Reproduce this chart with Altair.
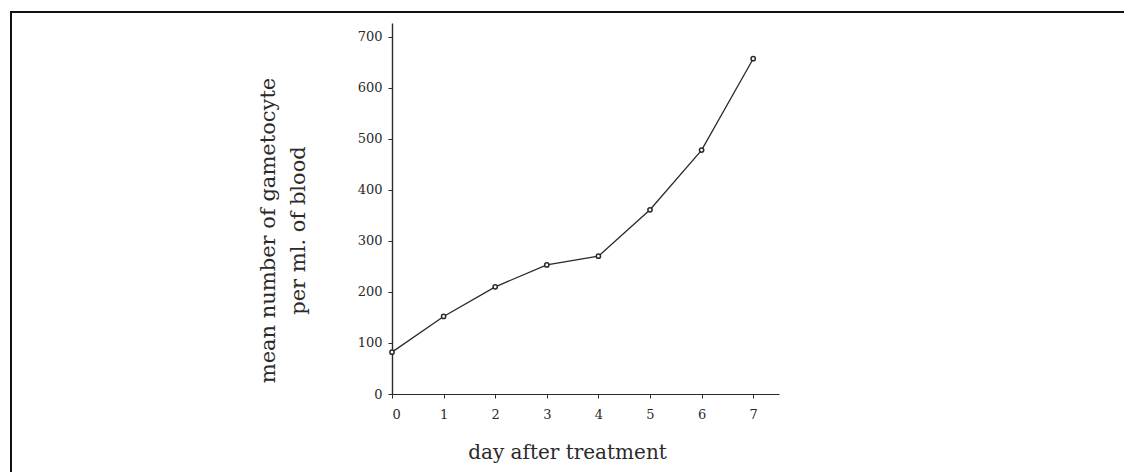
import altair as alt
import pandas as pd

days = [0, 1, 2, 3, 4, 5, 6, 7]
gametocytes = [82, 152, 210, 253, 270, 361, 478, 657]
y_ticks = [0, 100, 200, 300, 400, 500, 600, 700]
x_ticks = [0, 1, 2, 3, 4, 5, 6, 7]

df = pd.DataFrame({"day": days, "count": gametocytes})

FONT = "DejaVu Serif"
INK = "#2a2a2a"

x_enc = alt.X(
    "day:Q",
    scale=alt.Scale(domain=[0, 7.5], nice=False, zero=False),
    axis=alt.Axis(
        values=x_ticks, format="d", title="day after treatment",
        titleX=175, titleY=58, titleBaseline="middle", titleAnchor=None,
        titleFont=FONT, titleFontSize=20, titleFontWeight="normal", titleColor=INK,
        labelFont=FONT, labelFontSize=13, labelColor=INK, labelPadding=10,
        tickSize=4, tickColor=INK, domainColor=INK, domainWidth=1.2, grid=False,
    ),
)
y_enc = alt.Y(
    "count:Q",
    scale=alt.Scale(domain=[0, 727], nice=False),
    axis=alt.Axis(
        values=y_ticks, format="d",
        title=["mean number of gametocyte", "per ml. of blood"],
        titleX=-124, titleY=207, titleAngle=-90, titleAlign="center",
        titleBaseline="middle", titleLineHeight=30,
        titleFont=FONT, titleFontSize=21, titleFontWeight="normal", titleColor=INK,
        labelFont=FONT, labelFontSize=13, labelColor=INK, labelPadding=6,
        tickSize=4, tickColor=INK, domainColor=INK, domainWidth=1.4, grid=False,
    ),
)

line = alt.Chart(df).mark_line(color=INK, strokeWidth=1.3).encode(x=x_enc, y=y_enc)
pts = alt.Chart(df).mark_point(
    shape="circle", size=18, filled=False, color=INK, strokeWidth=1.5, fill="white", fillOpacity=1
).encode(x="day:Q", y="count:Q")

frame = alt.Chart(pd.DataFrame({"a": [0]})).mark_rect(
    fill=None, stroke="#111", strokeWidth=2, clip=False
).encode(
    x=alt.value(-381), x2=alt.value(738), y=alt.value(-11), y2=alt.value(450)
)

chart = alt.layer(frame, line, pts).properties(
    width=387, height=371,
    autosize=alt.AutoSizeParams(type="none"),
    padding={"left": 384, "top": 15, "right": 345, "bottom": 78},
).configure(background="white").configure_view(stroke=None)

chart.save("out.html", embed_options={"renderer": "svg", "actions": False})
